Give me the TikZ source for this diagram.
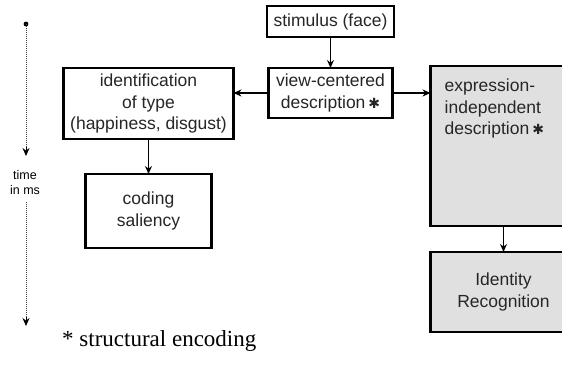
\documentclass[tikz,border=0pt]{standalone}
\usepackage{fontspec}
\setmainfont{Liberation Sans}
\newfontfamily\serifnote{Liberation Serif}
\newfontfamily\starfont{DejaVu Sans}
\usepackage{xcolor}
\usetikzlibrary{positioning,arrows.meta}
\definecolor{boxgray}{HTML}{E0E0E0}
\newcommand{\heavystar}{\,{\starfont\fontsize{14}{14}\selectfont ✱}}
\tikzstyle{stage} = [rectangle, line width=2.8pt, draw=black, fill=white, text=black!85, align=center, inner sep=0pt, outer sep=0pt, font=\fontsize{17.5}{21.5}\selectfont]
\tikzstyle{shaded} = [stage, fill=boxgray]
\tikzstyle{arrow} = [line width=1.4pt,->,>={Stealth[length=8pt,width=7pt]}]
\tikzstyle{timeline} = [line width=1pt, dash pattern=on 1pt off 1pt, black!75]
\tikzstyle{timetip} = [line width=1pt, black, ->, >={Stealth[length=8pt,width=7pt]}]

\begin{document}
\begin{tikzpicture}[x=1pt, y=1pt]
    \useasboundingbox (0,-365) rectangle (562,0);
    \clip (0,-365) rectangle (562,0);
    % Processing stages
    \node (stim) [stage, minimum width=127pt, minimum height=31pt] at (330.5,-21.5) {stimulus (face)};
    \node (view) [stage, minimum width=124pt, minimum height=50pt, below=31pt of stim] {view-centered\\description\heavystar};
    \node (ident) [stage, minimum width=170pt, minimum height=71pt, left=35pt of view.north west, anchor=north east] {identification\\of type\\(happiness, disgust)};
    \node (coding) [stage, minimum width=126pt, minimum height=74pt, below=35pt of ident] {coding\\saliency};
    \node (expr) [shaded, minimum width=146pt, minimum height=160pt, right=38pt of view.north east, anchor=north west, yshift=2pt] {};
    \node (exprtext) [anchor=north west, align=left, text=black!85, font=\fontsize{17.5}{21.5}\selectfont, inner sep=0pt] at ([shift={(14,-13)}]expr.north west) {expression-\\independent\\description\heavystar};
    \node (idrec) [shaded, minimum width=146pt, minimum height=80pt, below=26pt of expr] {Identity\\Recognition};

    % Time axis
    \coordinate (tstart) at (26,-24);
    \coordinate (tmid) at (26,-156);
    \node (tlabel) [align=center, font=\fontsize{12.5}{15}\selectfont, inner sep=1pt] at (25,-183) {time\\in ms};
    \coordinate (tend) at (26,-326);
    \fill (tstart) circle (2.4pt);
    \draw [timeline] (tstart) -- ([yshift=8pt]tmid);
    \draw [timetip] ([yshift=9pt]tmid) -- (tmid);
    \draw [timeline] ([yshift=-6pt]tlabel.south -| tstart) -- ([yshift=8pt]tend);
    \draw [timetip] ([yshift=9pt]tend) -- (tend);

    % Footnote
    \node (note) [anchor=west, font=\serifnote\fontsize{23}{25}\selectfont, inner sep=0pt] at (62,-341) {* structural encoding};

    % Arrows
    \draw [arrow] (stim) -- (view);
    \draw [arrow] (view.west) -- (view.west -| ident.east);
    \draw [arrow] (view.east) -- (view.east -| expr.west);
    \draw [arrow] (ident) -- (coding);
    \draw [arrow] (expr) -- (idrec);
\end{tikzpicture}
\end{document}
